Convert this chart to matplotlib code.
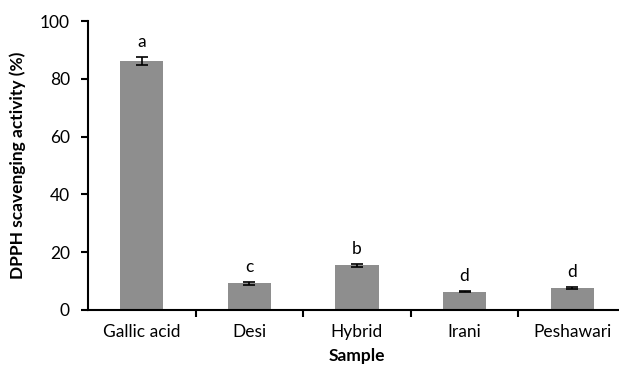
import matplotlib.pyplot as plt
import numpy as np

plt.rcParams['font.family'] = ['Lato', 'DejaVu Sans']

samples = ['Gallic acid', 'Desi', 'Hybrid', 'Irani', 'Peshawari']
activity = [86.2, 9.2, 15.4, 6.3, 7.7]
errors = [1.4, 0.4, 0.5, 0.2, 0.3]
letters = ['a', 'c', 'b', 'd', 'd']

fig = plt.figure(figsize=(6.19, 3.69), dpi=100)
ax = fig.add_axes([88 / 619, 1 - 310 / 369, 538 / 619, 289 / 369])

x = np.arange(len(samples))
ax.bar(x, activity, width=0.4, color='#8e8e8e',
       yerr=errors, capsize=4, error_kw=dict(ecolor='black', elinewidth=1.2, capthick=1.2))

for xi, v, e, s in zip(x, activity, errors, letters):
    ax.text(xi, v + e + 2.5, s, ha='center', va='bottom', fontsize=12.5)

ax.set_xlim(-0.5, len(samples) - 0.5)
ax.set_ylim(0, 100)
ax.set_yticks(range(0, 101, 20))
ax.set_xticks(x)
ax.set_xticklabels(samples, fontsize=12.5)
ax.tick_params(axis='y', labelsize=12.5, direction='out', length=5, width=1.5, pad=8)
ax.tick_params(axis='x', length=0, pad=10)
ax.set_xticks(np.arange(0.5, len(samples) - 0.5, 1), minor=True)
ax.tick_params(axis='x', which='minor', direction='out', length=5, width=1.5)

ax.spines['top'].set_visible(False)
ax.spines['right'].set_visible(False)
ax.spines['left'].set_linewidth(1.5)
ax.spines['bottom'].set_linewidth(1.5)

ax.set_ylabel('DPPH scavenging activity (%)', fontsize=12.5, fontweight='bold', labelpad=10)
ax.set_xlabel('Sample', fontsize=12.5, fontweight='bold', labelpad=6)

plt.savefig('out.png', dpi=100)
